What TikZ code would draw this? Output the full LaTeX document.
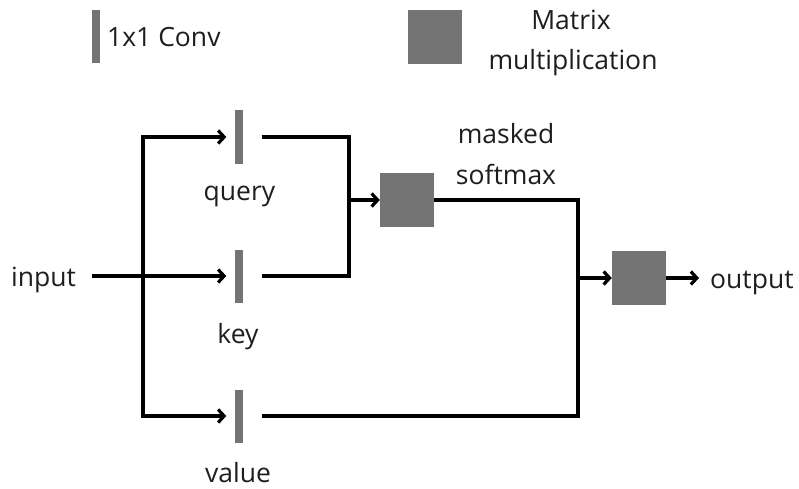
\documentclass[tikz,border=0pt]{standalone}
\usepackage{fontspec}
\setmainfont{Open Sans}
\usetikzlibrary{arrows.meta}
\definecolor{blockgray}{HTML}{747474}
\definecolor{inkgray}{HTML}{1E1E1E}
\tikzset{
  convbar/.style={fill=blockgray, draw=none, minimum width=8pt, minimum height=53pt, inner sep=0pt},
  mulbox/.style={fill=blockgray, draw=none, minimum width=54pt, minimum height=54pt, inner sep=0pt},
  lbl/.style={font=\fontsize{26.5}{40}\selectfont, inner sep=0pt, text=inkgray, anchor=base},
  wire/.style={line width=3.2pt, black},
  arr/.style={wire, -{Straight Barb[length=6pt,width=13pt,line width=3.2pt]}}
}
\begin{document}
\begin{tikzpicture}[x=1pt,y=-1pt]
\useasboundingbox (0,0) rectangle (799,489);
% legend
\node[convbar] (legconv) at (96,37) {};
\node[lbl, anchor=base west] (legconvtxt) at (107,47) {1x1 Conv};
\node[mulbox] (legmul) at (435,37) {};
\node[lbl] (legmultxtA) at (571,30) {Matrix};
\node[lbl] (legmultxtB) at (573,70) {multiplication};
% blocks
\node[convbar] (q) at (238.5,137) {};
\node[convbar] (k) at (238.5,276) {};
\node[convbar] (v) at (238.5,416) {};
\node[mulbox] (m1) at (407,200) {};
\node[mulbox] (m2) at (639,278) {};
% labels
\node[lbl] (qlbl) at (239.5,200) {query};
\node[lbl] (klbl) at (238,343) {key};
\node[lbl] (vlbl) at (238,482) {value};
\node[lbl, anchor=base west] (in) at (11,286) {input};
\node[lbl, anchor=base west] (out) at (710,288) {output};
\node[lbl] (smxA) at (506,143) {masked};
\node[lbl] (smxB) at (506,184) {softmax};
% junctions
\coordinate (inend) at (92,276);
\coordinate (trunk) at (143,276);
\coordinate (merge) at (349,200);
\coordinate (split) at (578,278);
% input branches
\draw[wire] (inend) -- (trunk);
\draw[arr] (trunk) -- ([xshift=-8pt]k.west);
\draw[arr] (trunk) |- ([xshift=-8pt]q.west);
\draw[arr] (trunk) |- ([xshift=-8pt]v.west);
% query/key merge into first product
\draw[wire] ([xshift=19pt]q.east) -| (merge);
\draw[wire] ([xshift=19pt]k.east) -| (merge);
\draw[arr] (merge) -- (m1.west);
% softmax and value merge into second product
\draw[wire] (m1.east) -| (split);
\draw[wire] ([xshift=19pt]v.east) -| (split);
\draw[arr] (split) -- (m2.west);
\draw[arr] (m2.east) -- (699,278) coordinate (outtip);
\end{tikzpicture}
\end{document}
